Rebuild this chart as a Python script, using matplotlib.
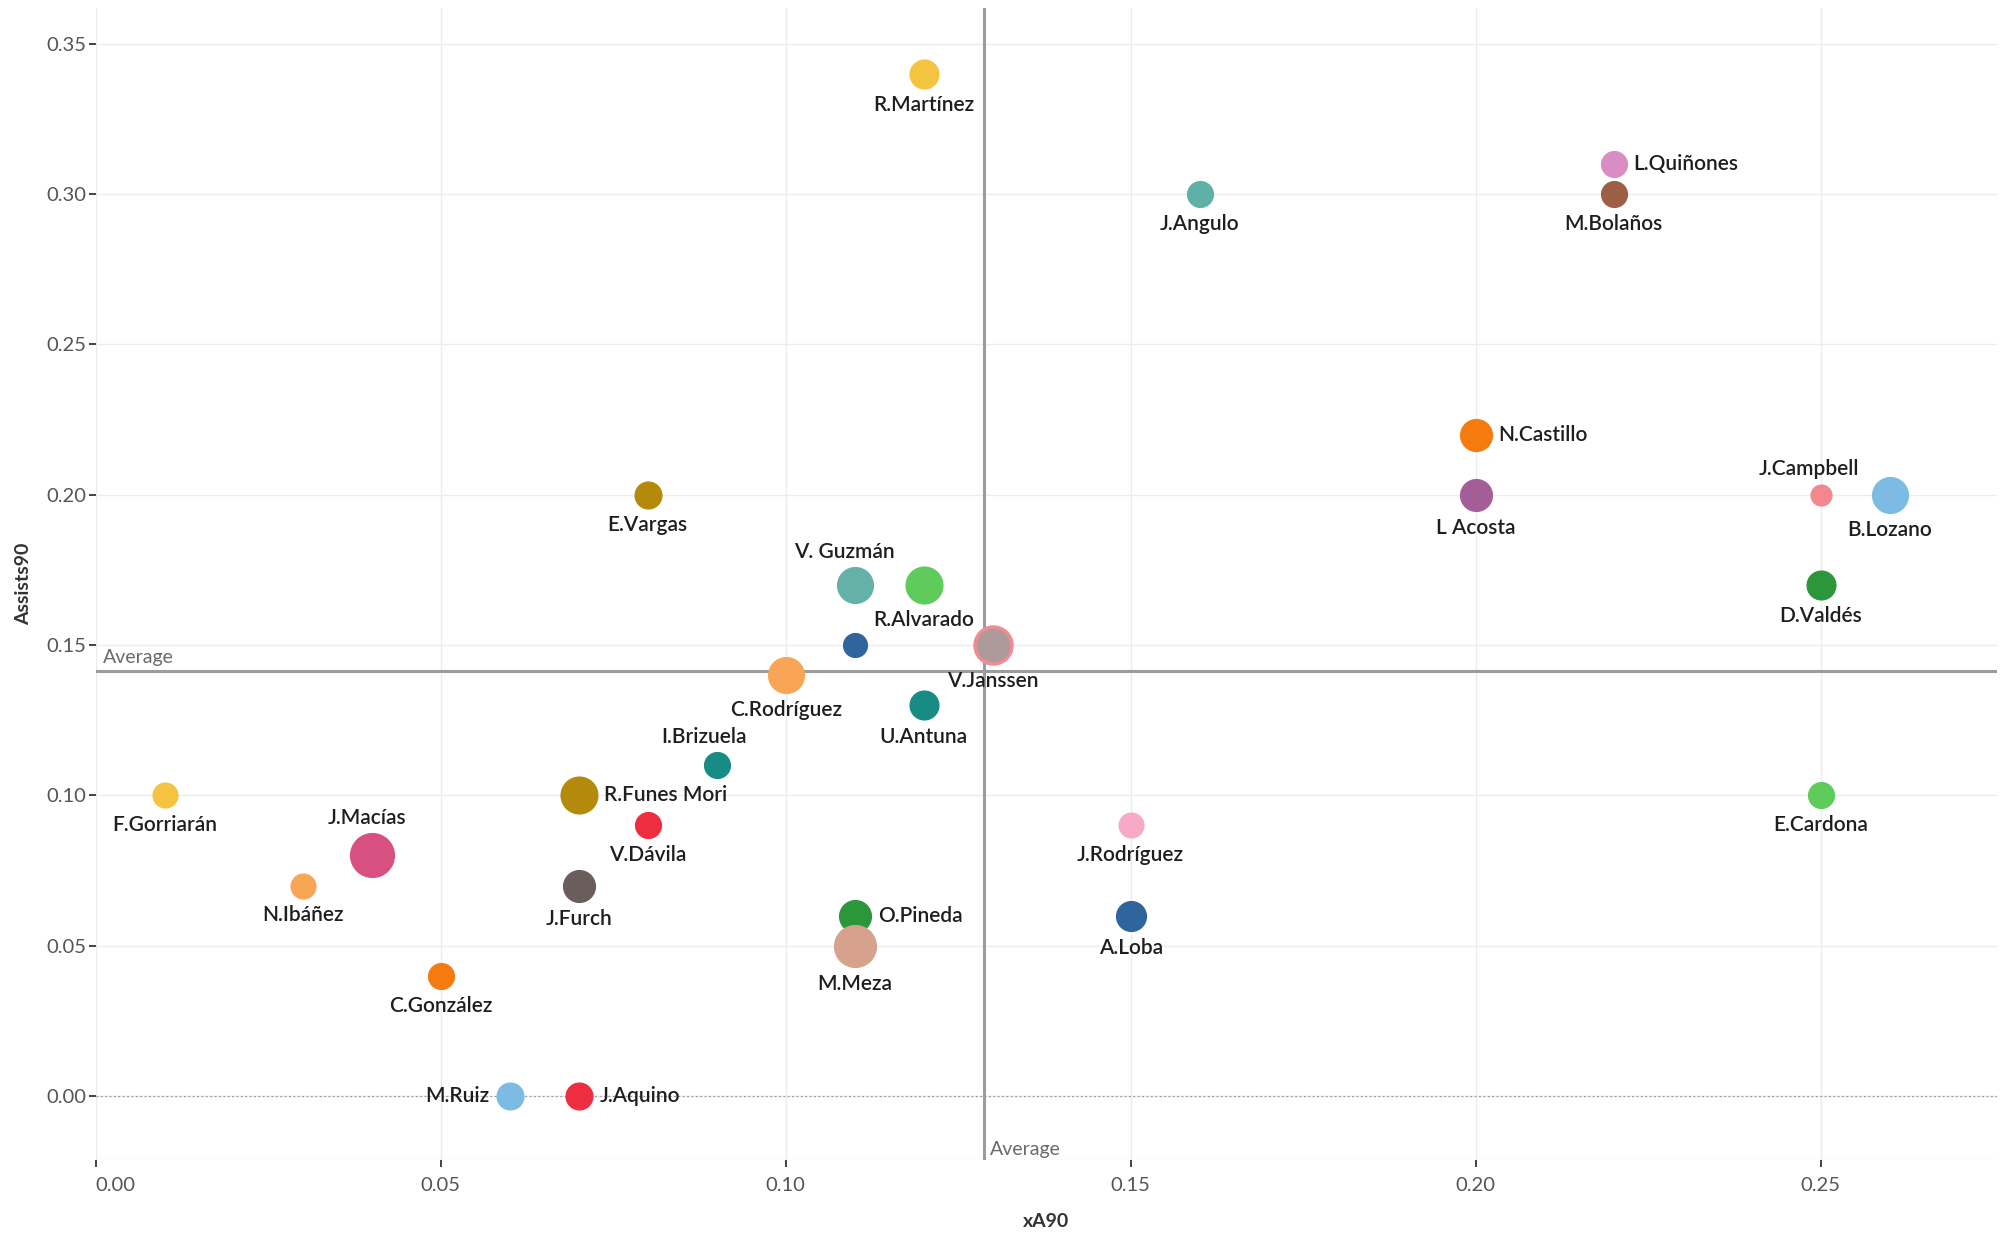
import matplotlib
matplotlib.use("Agg")
import matplotlib.pyplot as plt

plt.rcParams["font.family"] = ["Lato", "DejaVu Sans"]

# player data
players = [
    "R.Martínez", "J.Angulo", "L.Quiñones", "M.Bolaños", "N.Castillo",
    "L Acosta", "J.Campbell", "B.Lozano", "D.Valdés", "E.Cardona",
    "E.Vargas", "V. Guzmán", "R.Alvarado", "", "V.Janssen",
    "C.Rodríguez", "U.Antuna", "I.Brizuela", "R.Funes Mori", "V.Dávila",
    "F.Gorriarán", "J.Macías", "N.Ibáñez", "J.Furch", "C.González",
    "O.Pineda", "M.Meza", "J.Rodríguez", "A.Loba", "M.Ruiz", "J.Aquino",
]
xa90 = [
    0.12, 0.16, 0.22, 0.22, 0.20,
    0.20, 0.25, 0.26, 0.25, 0.25,
    0.08, 0.11, 0.12, 0.11, 0.13,
    0.10, 0.12, 0.09, 0.07, 0.08,
    0.01, 0.04, 0.03, 0.07, 0.05,
    0.11, 0.11, 0.15, 0.15, 0.06, 0.07,
]
assists90 = [
    0.34, 0.30, 0.31, 0.30, 0.22,
    0.20, 0.20, 0.20, 0.17, 0.10,
    0.20, 0.17, 0.17, 0.15, 0.15,
    0.14, 0.13, 0.11, 0.10, 0.09,
    0.10, 0.08, 0.07, 0.07, 0.04,
    0.06, 0.05, 0.09, 0.06, 0.00, 0.00,
]
bubble = [
    29, 26, 26, 26, 32,
    32, 21, 36, 29, 26,
    27, 36, 37, 24, 37,
    36, 29, 26, 37, 26,
    25, 44, 25, 32, 26,
    32, 42, 25, 30, 27, 27,
]
colors = [
    "#F4C33F", "#5FB1A7", "#DA8CC4", "#9C5F45", "#F57A0F",
    "#A35E98", "#F4868E", "#7CBCE4", "#2B973A", "#5ECB5B",
    "#B38A0C", "#64B2A7", "#5ECB5B", "#2F649D", "#AE9A9A",
    "#F8A656", "#178B84", "#178B84", "#B38A0C", "#EE2D40",
    "#F4C33F", "#D8507F", "#F8A656", "#695E5C", "#F57A0F",
    "#2B973A", "#D6A28E", "#F7AAC6", "#2F649D", "#7CBCE4", "#EE2D40",
]
# where each label sits: below / above / right / left
label_side = [
    "below", "below", "right", "below", "right",
    "below", "above", "below", "below", "below",
    "below", "above", "below", "none", "below",
    "below", "below", "above", "right", "below",
    "below", "above", "below", "below", "below",
    "right", "below", "below", "below", "left", "right",
]
label_dx = {"J.Campbell": -12, "V. Guzmán": -10, "I.Brizuela": -13, "J.Macías": -5}

avg_x = 0.1287
avg_y = 0.1413

fig = plt.figure(figsize=(20, 12.46), dpi=100)
ax = fig.add_axes([0.0479, 0.069, 0.9507, 0.9246])

ax.set_xlim(0, 0.2756)
ax.set_ylim(-0.0213, 0.3619)
ax.set_xticks([0, 0.05, 0.10, 0.15, 0.20, 0.25])
ax.set_yticks([0, 0.05, 0.10, 0.15, 0.20, 0.25, 0.30, 0.35])
ax.set_xticklabels(["0.00", "0.05", "0.10", "0.15", "0.20", "0.25"])
ax.set_yticklabels(["0.00", "0.05", "0.10", "0.15", "0.20", "0.25", "0.30", "0.35"])
ax.get_xticklabels()[0].set_horizontalalignment("left")

for s in ax.spines.values():
    s.set_visible(False)
ax.grid(True, color="#ececec", linewidth=1.0, zorder=0)
ax.set_axisbelow(True)
ax.tick_params(axis="both", colors="#333333", labelcolor="#555555",
               labelsize=14.5, length=5, width=1.3)
ax.tick_params(axis="x", pad=7)
ax.tick_params(axis="y", pad=2)
ax.axhline(0, color="#9a9a9a", linewidth=0.9, linestyle=(0, (1.5, 2)), zorder=1)
ax.axhline(ax.get_ylim()[0], color="#ececec", linewidth=1.0, zorder=1)

# average reference lines
ax.axvline(avg_x, color="#9c9c9c", linewidth=2.2, zorder=2)
ax.axhline(avg_y, color="#9c9c9c", linewidth=2.2, zorder=2)
ax.text(0.0011, avg_y + 0.0016, "Average", fontsize=14, color="#6a6a6a",
        ha="left", va="bottom", zorder=3)
ax.text(avg_x + 0.0009, -0.0205, "Average", fontsize=14, color="#6a6a6a",
        ha="left", va="bottom", zorder=3)

for i, name in enumerate(players):
    d = bubble[i]
    ec = "#EE8E92" if name == "V.Janssen" else colors[i]
    lw = 2.5 if name == "V.Janssen" else 0.8
    ax.scatter(xa90[i], assists90[i], s=(d * 0.72) ** 2, color=colors[i],
               edgecolors=ec, linewidths=lw, zorder=4 + i * 0.01)
    side = label_side[i]
    if side == "none":
        continue
    r = d / 2
    dx = label_dx.get(name, 0)
    if side == "below":
        off, ha, va = (dx, -(r + 17)), "center", "center"
    elif side == "above":
        off, ha, va = (dx, r + 15), "center", "center"
    elif side == "right":
        off, ha, va = (r + 7, 0), "left", "center"
    else:
        off, ha, va = (-(r + 7), 0), "right", "center"
    ax.annotate(name, (xa90[i], assists90[i]), xytext=off,
                textcoords="offset pixels", ha=ha, va=va,
                fontsize=15, fontweight="semibold", color="#1e1e1e", zorder=6)

ax.set_xlabel("xA90", fontsize=14, fontweight="bold", color="#333333", labelpad=14)
ax.set_ylabel("Assists90", fontsize=14, fontweight="bold", color="#333333", labelpad=10)

fig.savefig("out.png", dpi=100, facecolor="white")
